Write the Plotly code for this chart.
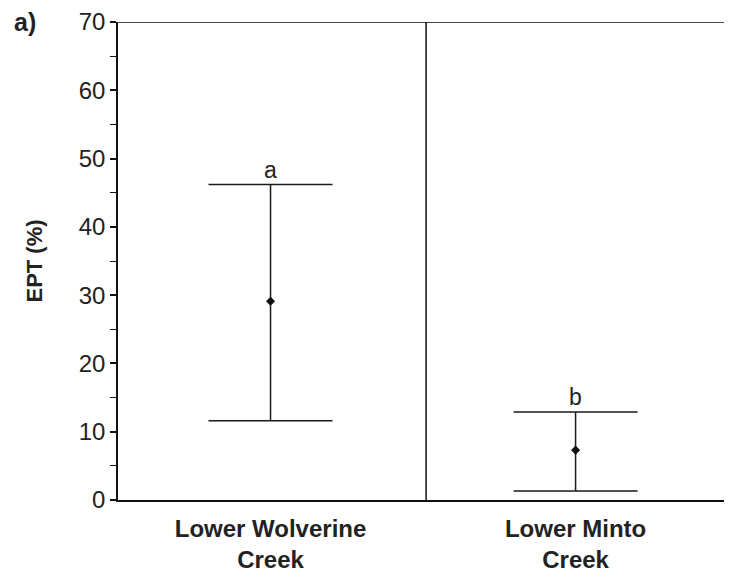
import plotly.graph_objects as go

categories = ["Lower Wolverine<br>Creek", "Lower Minto<br>Creek"]
means = [29.1, 7.3]
upper = [46.2, 12.9]
lower = [11.6, 1.3]
letters = ["a", "b"]
y_ticks = [0, 10, 20, 30, 40, 50, 60, 70]

xpos = list(range(len(categories)))
err_plus = [u - m for u, m in zip(upper, means)]
err_minus = [m - l for m, l in zip(means, lower)]

FONT = "Liberation Sans, Arial"

fig = go.Figure()
fig.add_trace(go.Scatter(
    x=xpos, y=means, mode="markers",
    marker=dict(symbol="diamond", size=7, color="#111111"),
    error_y=dict(type="data", symmetric=False, array=err_plus, arrayminus=err_minus,
                 width=62, thickness=1.5, color="#1a1a1a"),
    showlegend=False,
))

for x, u, t in zip(xpos, upper, letters):
    fig.add_annotation(x=x, y=u, text=t, showarrow=False, yanchor="bottom", yshift=0,
                       font=dict(family=FONT, size=23, color="#222222"))

# divider between groups and top border
fig.add_shape(type="line", x0=0.51, x1=0.51, y0=0, y1=70, xref="x", yref="y",
              line=dict(color="#111111", width=1.5))
fig.add_shape(type="line", x0=0, x1=1, y0=70, y1=70, xref="paper", yref="y",
              line=dict(color="#111111", width=1.5))

fig.add_annotation(x=-0.17, y=1.0, xref="paper", yref="paper", text="<b>a)</b>", showarrow=False,
                   xanchor="left", yanchor="middle",
                   font=dict(family=FONT, size=25, color="#222222"))

fig.update_layout(
    width=732, height=572,
    margin=dict(l=110, r=0, t=14, b=80),
    plot_bgcolor="white", paper_bgcolor="white",
    font=dict(family=FONT, color="#222222"),
    xaxis=dict(range=[-0.5, 1.539], tickmode="array", tickvals=xpos,
               ticktext=["<b>" + c + "</b>" for c in categories],
               tickfont=dict(size=24, color="#222222"), ticklabelstandoff=6,
               showline=True, linecolor="#111111", linewidth=1.5,
               showgrid=False, zeroline=False, ticks=""),
    yaxis=dict(range=[0, 70], tickmode="array", tickvals=y_ticks,
               tickfont=dict(size=24, color="#222222"),
               ticks="outside", ticklen=6, tickwidth=1.5, tickcolor="#111111",
               minor=dict(tickmode="linear", tick0=0, dtick=5, ticks="outside", ticklen=6,
                          tickwidth=1, tickcolor="#111111"),
               showline=True, linecolor="#111111", linewidth=1.5,
               showgrid=False, zeroline=False,
               title=dict(text="<b>EPT (%)</b>", font=dict(size=22, color="#222222"), standoff=30)),
)

fig.write_html("out.html")
